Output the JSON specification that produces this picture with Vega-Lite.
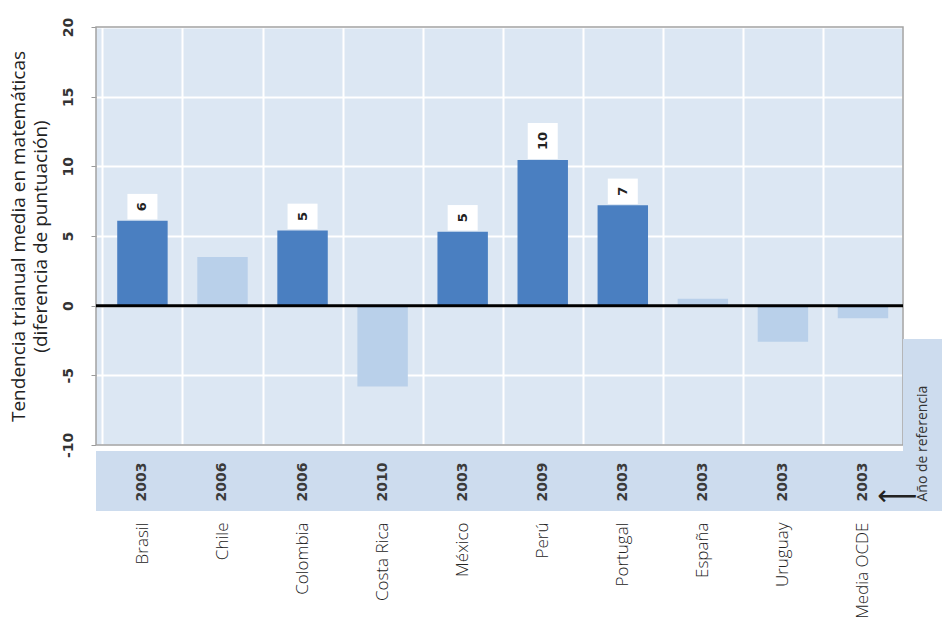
{
  "$schema": "https://vega.github.io/schema/vega-lite/v6.json",
  "background": "white",
  "padding": {"left": 9, "top": 17, "right": 0, "bottom": 0},
  "bounds": "flush",
  "spacing": 0,
  "config": {
    "view": {"stroke": null},
    "axis": {"labelFont": "Open Sans", "titleFont": "Open Sans"}
  },
  "datasets": {
    "paises": [
      {"pais": "Brasil", "tendencia": 6.1, "anio": "2003", "significativo": true},
      {"pais": "Chile", "tendencia": 3.5, "anio": "2006", "significativo": false},
      {"pais": "Colombia", "tendencia": 5.4, "anio": "2006", "significativo": true},
      {"pais": "Costa Rica", "tendencia": -5.8, "anio": "2010", "significativo": false},
      {"pais": "México", "tendencia": 5.3, "anio": "2003", "significativo": true},
      {"pais": "Perú", "tendencia": 10.45, "anio": "2009", "significativo": true},
      {"pais": "Portugal", "tendencia": 7.2, "anio": "2003", "significativo": true},
      {"pais": "España", "tendencia": 0.5, "anio": "2003", "significativo": false},
      {"pais": "Uruguay", "tendencia": -2.6, "anio": "2003", "significativo": false},
      {"pais": "Media OCDE", "tendencia": -0.9, "anio": "2003", "significativo": false}
    ]
  },
  "hconcat": [
    {
      "width": 807,
      "height": 484,
      "view": {"fill": "#dce7f3", "stroke": null},
      "data": {"name": "paises"},
      "encoding": {
        "x": {
          "field": "pais",
          "type": "nominal",
          "sort": null,
          "scale": {"paddingInner": 0, "paddingOuter": 0.04, "align": 1},
          "axis": {
            "title": null,
            "orient": "bottom",
            "labelAngle": -90,
            "labelAlign": "right",
            "labelBaseline": "middle",
            "labelFont": "Open Sans",
            "labelFontWeight": 300,
            "labelFontSize": 17,
            "labelColor": "#222222",
            "labelPadding": 11,
            "ticks": false,
            "tickSize": 0,
            "domain": false,
            "grid": true,
            "gridColor": "#ffffff",
            "gridWidth": 2,
            "tickBand": "extent"
          }
        }
      },
      "layer": [
        {
          "mark": {"type": "rect", "fill": "#ffffff"},
          "data": {"values": [{"a": -10, "b": -10.43}]},
          "encoding": {
            "x": null,
            "y": {"field": "a", "type": "quantitative", "scale": {"domain": [-14.74, 20], "nice": false, "zero": false},
              "axis": {
                "values": [-10, -5, 0, 5, 10, 15, 20],
                "labelExpr": "'' + datum.value",
                "title": ["Tendencia trianual media en matemáticas", "(diferencia de puntuación)"],
                "titleFontSize": 19,
                "titleFontWeight": "normal",
                "titleColor": "#222222",
                "titleLineHeight": 22,
                "titleY": 209,
                "titlePadding": 11,
                "labelAngle": 270,
                "labelAlign": "center",
                "labelBaseline": "middle",
                "labelFont": "DejaVu Sans",
                "labelFontWeight": "bold",
                "labelFontSize": 14,
                "labelColor": "#333333",
                "labelPadding": 23,
                "tickColor": "#9a9a9a",
                "tickSize": 5,
                "domain": false,
                "grid": true,
                "gridColor": "#ffffff",
                "gridWidth": 2
              }
            },
            "y2": {"field": "b"}
          }
        },
        {
          "mark": {"type": "rect", "fill": "#cddcee"},
          "data": {"values": [{"a": -10.43, "b": -14.74}]},
          "encoding": {
            "x": null,
            "y": {"field": "a", "type": "quantitative"},
            "y2": {"field": "b"}
          }
        },
        {
          "mark": {"type": "rect", "fillOpacity": 0, "stroke": "#a3a3a3", "strokeWidth": 1.5},
          "data": {"values": [{"a": -10, "b": 20}]},
          "encoding": {
            "x": null,
            "y": {"field": "a", "type": "quantitative"},
            "y2": {"field": "b"}
          }
        },
        {
          "mark": {"type": "bar", "width": {"band": 0.63}},
          "encoding": {
            "y": {"field": "tendencia", "type": "quantitative"},
            "y2": {"datum": 0},
            "color": {
              "field": "significativo",
              "type": "nominal",
              "scale": {"domain": [true, false], "range": ["#4a7fc1", "#b9d0ea"]},
              "legend": null
            }
          }
        },
        {
          "mark": {"type": "rule", "color": "#000000", "strokeWidth": 3},
          "data": {"values": [{"cero": 0}]},
          "encoding": {
            "x": null,
            "y": {"field": "cero", "type": "quantitative"}
          }
        },
        {
          "transform": [{"filter": "datum.significativo && datum.tendencia < 9.5"}],
          "mark": {"type": "point", "shape": "M-1,-0.85H1V0.85H-1Z", "size": 900, "filled": true, "fill": "#ffffff", "opacity": 1, "strokeWidth": 0, "yOffset": -14},
          "encoding": {"y": {"field": "tendencia", "type": "quantitative"}}
        },
        {
          "transform": [{"filter": "datum.significativo && datum.tendencia >= 9.5"}],
          "mark": {"type": "point", "shape": "M-1,-1.2H1V1.2H-1Z", "size": 900, "filled": true, "fill": "#ffffff", "opacity": 1, "strokeWidth": 0, "yOffset": -19},
          "encoding": {"y": {"field": "tendencia", "type": "quantitative"}}
        },
        {
          "transform": [{"filter": "datum.significativo && datum.tendencia < 9.5"}],
          "mark": {"type": "text", "angle": 270, "align": "center", "baseline": "middle", "font": "DejaVu Sans", "fontWeight": "bold", "fontSize": 13, "color": "#222222", "yOffset": -14},
          "encoding": {
            "y": {"field": "tendencia", "type": "quantitative"},
            "text": {"field": "tendencia", "type": "quantitative", "format": ".0f"}
          }
        },
        {
          "transform": [{"filter": "datum.significativo && datum.tendencia >= 9.5"}],
          "mark": {"type": "text", "angle": 270, "align": "center", "baseline": "middle", "font": "DejaVu Sans", "fontWeight": "bold", "fontSize": 13, "color": "#222222", "yOffset": -19},
          "encoding": {
            "y": {"field": "tendencia", "type": "quantitative"},
            "text": {"field": "tendencia", "type": "quantitative", "format": ".0f"}
          }
        },
        {
          "mark": {"type": "text", "angle": 270, "align": "center", "baseline": "middle", "font": "DejaVu Sans", "fontWeight": "bold", "fontSize": 14, "color": "#3a3a3a"},
          "encoding": {
            "y": {"datum": -12.66, "type": "quantitative"},
            "text": {"field": "anio", "type": "nominal"}
          }
        }
      ]
    },
    {
      "width": 39,
      "height": 484,
      "data": {"values": [{"desde": -2.4, "hasta": -14.74, "rotulo": "Año de referencia", "centro": -9.9, "flecha": -13.74}]},
      "encoding": {},
      "layer": [
        {
          "mark": {"type": "rect", "fill": "#cddcee"},
          "encoding": {
            "y": {"field": "desde", "type": "quantitative", "scale": {"domain": [-14.74, 20], "nice": false, "zero": false}, "axis": null},
            "y2": {"field": "hasta"}
          }
        },
        {
          "mark": {"type": "text", "angle": 270, "align": "center", "baseline": "middle", "font": "Open Sans", "fontSize": 14, "color": "#333333"},
          "encoding": {
            "y": {"field": "centro", "type": "quantitative"},
            "text": {"field": "rotulo", "type": "nominal"}
          }
        },
        {
          "mark": {"type": "text", "align": "center", "baseline": "middle", "font": "DejaVu Sans", "fontSize": 28, "color": "#222222", "dx": -25, "text": "⟵"},
          "encoding": {
            "y": {"field": "flecha", "type": "quantitative"}
          }
        }
      ]
    }
  ]
}
